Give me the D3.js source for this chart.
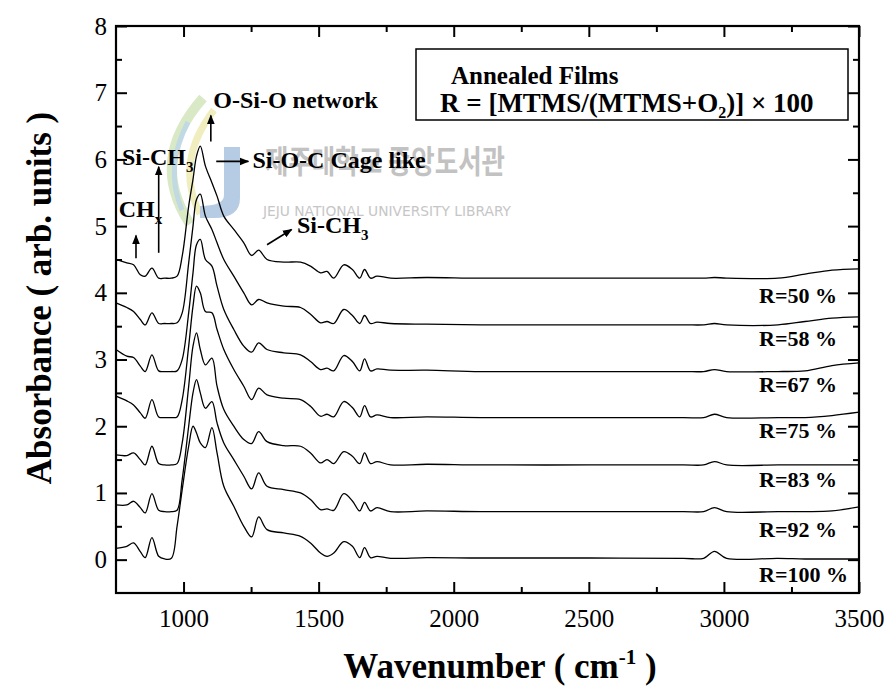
<!DOCTYPE html>
<html>
<head>
<meta charset="utf-8">
<script src="https://cdn.jsdelivr.net/npm/d3@7"></script>
</head>
<body style="margin:0; background:#fff">
<svg id="chart" width="887" height="693"></svg>
<script>
// wavenumber grid (cm-1) shared by all spectra
var wavenumber = [750, 790, 815, 840, 858, 883, 908, 930, 955, 976, 995, 1019, 1035, 1048, 1062, 1081, 1105, 1124, 1149, 1186,
  1223, 1252, 1278, 1309, 1371, 1433, 1470, 1507, 1531, 1556, 1593, 1625, 1652, 1670, 1692, 1716, 1766, 1900, 2100, 2500,
  2850, 2925, 2965, 3010, 3200, 3300, 3400, 3500];

var r50 = [4.5, 4.45, 4.42, 4.27, 4.25, 4.37, 4.22, 4.22, 4.22, 4.25, 4.55, 5.3, 5.7, 6.05, 6.2, 5.9, 5.65, 5.45, 5.15, 4.95,
  4.75, 4.56, 4.64, 4.5, 4.46, 4.46, 4.4, 4.3, 4.32, 4.22, 4.42, 4.35, 4.22, 4.35, 4.22, 4.25, 4.22, 4.23, 4.22, 4.22,
  4.22, 4.22, 4.23, 4.22, 4.22, 4.28, 4.34, 4.36];
var r58 = [3.85, 3.78, 3.72, 3.6, 3.52, 3.7, 3.54, 3.54, 3.54, 3.55, 3.7, 4.45, 5.0, 5.4, 5.48, 5.15, 4.95, 4.75, 4.5, 4.25,
  4.0, 3.82, 3.9, 3.85, 3.8, 3.78, 3.68, 3.55, 3.57, 3.54, 3.75, 3.66, 3.54, 3.66, 3.54, 3.56, 3.54, 3.53, 3.52, 3.52,
  3.52, 3.52, 3.54, 3.52, 3.52, 3.57, 3.62, 3.64];
var r67 = [3.15, 3.05, 3.03, 2.9, 2.82, 3.07, 2.83, 2.82, 2.82, 2.83, 3.0, 3.7, 4.3, 4.72, 4.8, 4.5, 4.4, 4.1, 3.75, 3.45,
  3.2, 3.11, 3.25, 3.15, 3.1, 3.07, 2.97, 2.85, 2.87, 2.83, 3.06, 2.97, 2.83, 3.01, 2.83, 2.86, 2.84, 2.84, 2.82, 2.82,
  2.82, 2.82, 2.85, 2.82, 2.82, 2.83, 2.91, 2.95];
var r75 = [2.45, 2.38, 2.32, 2.2, 2.12, 2.4, 2.14, 2.13, 2.13, 2.14, 2.4, 3.2, 3.8, 4.1, 4.0, 3.72, 3.7, 3.45, 3.15, 2.85,
  2.6, 2.4, 2.57, 2.47, 2.42, 2.4, 2.3, 2.15, 2.18, 2.14, 2.37, 2.28, 2.14, 2.31, 2.14, 2.17, 2.13, 2.14, 2.13, 2.13,
  2.13, 2.13, 2.18, 2.13, 2.13, 2.13, 2.16, 2.21];
var r83 = [1.57, 1.56, 1.6, 1.5, 1.42, 1.7, 1.44, 1.42, 1.42, 1.44, 1.75, 2.6, 3.2, 3.4, 3.15, 2.92, 3.02, 2.6, 2.25, 2.0,
  1.8, 1.74, 1.92, 1.77, 1.71, 1.7, 1.6, 1.45, 1.5, 1.44, 1.62, 1.55, 1.44, 1.6, 1.44, 1.47, 1.42, 1.43, 1.42, 1.42,
  1.42, 1.42, 1.47, 1.42, 1.42, 1.42, 1.42, 1.42];
var r92 = [0.82, 0.82, 0.875, 0.78, 0.7, 0.99, 0.74, 0.72, 0.72, 0.74, 1.2, 2.0, 2.5, 2.7, 2.5, 2.27, 2.37, 2.05, 1.75, 1.5,
  1.25, 1.06, 1.3, 1.1, 1.05, 1.0, 0.9, 0.75, 0.76, 0.74, 0.99, 0.88, 0.73, 0.86, 0.73, 0.78, 0.72, 0.73, 0.72, 0.72,
  0.72, 0.72, 0.78, 0.72, 0.72, 0.72, 0.73, 0.79];
var r100 = [0.17, 0.2, 0.25, 0.12, 0.03, 0.33, 0.05, 0.01, 0.02, 0.5, 1.05, 1.7, 2.0, 1.9, 1.75, 1.68, 1.98, 1.6, 1.1, 0.8,
  0.5, 0.34, 0.64, 0.45, 0.4, 0.35, 0.25, 0.1, 0.05, 0.1, 0.27, 0.2, 0.03, 0.18, 0.03, 0.05, 0.02, 0.03, 0.025, 0.025,
  0.02, 0.02, 0.125, 0.02, 0.02, 0.01, 0.01, 0.01];

var seriesNames = ["R=50 %", "R=58 %", "R=67 %", "R=75 %", "R=83 %", "R=92 %", "R=100 %"];
var labelY = [3.84, 3.20, 2.52, 1.83, 1.09, 0.34, -0.34];
var labelX = 3130;

var xMajor = [1000, 1500, 2000, 2500, 3000, 3500];
var xMinor = [1250, 1750, 2250, 2750, 3250];
var yMajor = [0, 1, 2, 3, 4, 5, 6, 7, 8];
var yMinor = [0.5, 1.5, 2.5, 3.5, 4.5, 5.5, 6.5, 7.5];

var allSeries = [r50, r58, r67, r75, r83, r92, r100];

var SERIF = "Liberation Serif";

var svg = d3.select("#chart").attr("font-family", SERIF);
var margin = {top: 26, right: 28, bottom: 100, left: 116};
var width = 887 - margin.left - margin.right,
    height = 693 - margin.top - margin.bottom;

// helper: text with the serif face set directly on the node
function txt(parent, size, bold) {
  return parent.append("text")
    .attr("font-family", SERIF)
    .style("font-family", SERIF)
    .attr("font-size", size)
    .attr("font-weight", bold ? "bold" : "normal")
    .attr("fill", "#000");
}

// watermark (library stamp in the scan)
var wm = svg.append("g").attr("class", "watermark");
wm.append("path").attr("d", "M203,98 Q148,160 190,224").attr("fill", "none")
  .attr("stroke", "#cfe4b8").attr("stroke-width", 10).attr("opacity", 0.8);
wm.append("path").attr("d", "M214,110 Q174,162 200,214").attr("fill", "none")
  .attr("stroke", "#ece8ae").attr("stroke-width", 7).attr("opacity", 0.8);
wm.append("path").attr("d", "M188,122 Q164,168 182,210").attr("fill", "none")
  .attr("stroke", "#b9d4ea").attr("stroke-width", 5).attr("opacity", 0.8);
wm.append("path").attr("d", "M224,147 L240,147 L240,198 Q240,218 214,218 L200,218 L200,206 Q224,206 224,195 Z")
  .attr("fill", "#a9c2df").attr("opacity", 0.85);
wm.append("text").text("제주대학교 중앙도서관")
  .attr("x", 265).attr("y", 173)
  .attr("textLength", 240).attr("lengthAdjust", "spacingAndGlyphs")
  .attr("font-family", "Noto Sans CJK KR")
  .style("font-family", "Noto Sans CJK KR")
  .attr("font-size", 32).attr("font-weight", "bold").attr("fill", "#c2c2c2");
wm.append("text").text("JEJU NATIONAL UNIVERSITY LIBRARY")
  .attr("x", 263).attr("y", 216)
  .attr("textLength", 248).attr("lengthAdjust", "spacingAndGlyphs")
  .attr("font-family", "DejaVu Sans")
  .style("font-family", "DejaVu Sans")
  .attr("font-size", 14).attr("fill", "#c6c6c6");

var g = svg.append("g").attr("transform", "translate(" + margin.left + "," + margin.top + ")");

var x = d3.scaleLinear().domain([750, 3500]).range([0, width]);
var y = d3.scaleLinear().domain([-0.5, 8]).range([height, 0]);

// axes, ticks pointing inward
function styleAxis(sel) {
  sel.attr("font-family", SERIF).attr("font-size", 25);
  sel.select(".domain").remove();
  sel.selectAll(".tick line").attr("stroke", "#000").attr("stroke-width", 2);
  sel.selectAll(".tick text")
    .attr("font-family", SERIF).style("font-family", SERIF)
    .attr("font-size", 25).attr("fill", "#000");
}

g.append("g").attr("transform", "translate(0," + height + ")")
  .call(d3.axisBottom(x).tickValues(xMajor).tickSize(-11).tickPadding(16).tickFormat(d3.format("d")))
  .call(styleAxis);
g.append("g").attr("transform", "translate(0," + height + ")")
  .call(d3.axisBottom(x).tickValues(xMinor).tickSize(-6).tickFormat(""))
  .call(styleAxis);
g.append("g")
  .call(d3.axisTop(x).tickValues(xMajor).tickSize(-11).tickFormat(""))
  .call(styleAxis);
g.append("g")
  .call(d3.axisTop(x).tickValues(xMinor).tickSize(-6).tickFormat(""))
  .call(styleAxis);

g.append("g")
  .call(d3.axisLeft(y).tickValues(yMajor).tickSize(-11).tickPadding(9).tickFormat(d3.format("d")))
  .call(styleAxis);
g.append("g")
  .call(d3.axisLeft(y).tickValues(yMinor).tickSize(-6).tickFormat(""))
  .call(styleAxis);
g.append("g").attr("transform", "translate(" + width + ",0)")
  .call(d3.axisRight(y).tickValues(yMajor).tickSize(-11).tickFormat(""))
  .call(styleAxis);
g.append("g").attr("transform", "translate(" + width + ",0)")
  .call(d3.axisRight(y).tickValues(yMinor).tickSize(-6).tickFormat(""))
  .call(styleAxis);

// spectra
var line = d3.line()
  .x(function(d){ return x(d[0]); })
  .y(function(d){ return y(d[1]); })
  .curve(d3.curveCatmullRom.alpha(0.5));

g.selectAll(".spectrum")
  .data(allSeries)
  .enter().append("path")
  .attr("class", "spectrum")
  .attr("fill", "none")
  .attr("stroke", "#000")
  .attr("stroke-width", 1.3)
  .attr("d", function(s){
    return line(wavenumber.map(function(w, i){ return [w, s[i]]; }));
  });

// frame
g.append("rect").attr("width", width).attr("height", height)
  .attr("fill", "none").attr("stroke", "#000").attr("stroke-width", 2.2);

// series labels
seriesNames.forEach(function(name, i){
  txt(g, 22, true).attr("class", "rlabel")
    .attr("x", x(labelX)).attr("y", y(labelY[i]))
    .text(name);
});

// legend box
var box = g.append("g").attr("transform", "translate(300,23)");
box.append("rect").attr("width", 432).attr("height", 71)
  .attr("fill", "none").attr("stroke", "#000").attr("stroke-width", 1.5);
txt(box, 25, true).attr("x", 35).attr("y", 35).text("Annealed Films");
var t2 = txt(box, 27, true).attr("x", 24).attr("y", 63);
t2.append("tspan").text("R = [MTMS/(MTMS+O");
t2.append("tspan").attr("dy", 6).attr("font-size", 16).text("2");
t2.append("tspan").attr("dy", -6).text(")] \u00d7  100");

// peak annotations
function subText(wx, vy, main, sub) {
  var t = txt(g, 24, true).attr("x", x(wx)).attr("y", y(vy));
  t.append("tspan").text(main);
  t.append("tspan").attr("dy", 7).attr("font-size", 15).text(sub);
}
txt(g, 24, true).attr("x", x(1110)).attr("y", y(6.77)).text("O-Si-O network");
subText(772, 5.92, "Si-CH", "3");
subText(760, 5.14, "CH", "x");
txt(g, 24, true).attr("x", x(1255)).attr("y", y(5.87)).text("Si-O-C Cage like");
subText(1420, 4.89, "Si-CH", "3");

svg.append("defs").append("marker")
  .attr("id", "head").attr("viewBox", "0 0 10 10")
  .attr("refX", 9).attr("refY", 5)
  .attr("markerWidth", 6).attr("markerHeight", 6)
  .attr("orient", "auto")
  .append("path").attr("d", "M0,1 L10,5 L0,9 Z").attr("fill", "#000");

var arrows = [
  [1101, 6.27, 1101, 6.66],
  [908, 4.6, 908, 5.89],
  [824, 4.52, 824, 4.86],
  [1121, 5.97, 1240, 5.97],
  [1309, 4.72, 1400, 4.95]
];
g.selectAll(".arrow").data(arrows).enter().append("line")
  .attr("class", "arrow")
  .attr("x1", function(d){ return x(d[0]); })
  .attr("y1", function(d){ return y(d[1]); })
  .attr("x2", function(d){ return x(d[2]); })
  .attr("y2", function(d){ return y(d[3]); })
  .attr("stroke", "#000").attr("stroke-width", 1.6)
  .attr("marker-end", "url(#head)");

// axis titles
var xt = txt(svg, 35, true).attr("x", 500).attr("y", 678).attr("text-anchor", "middle");
xt.append("tspan").text("Wavenumber ( cm");
xt.append("tspan").attr("dy", -14).attr("font-size", 21).text("-1");
xt.append("tspan").attr("dy", 14).text(" )");

txt(svg, 35, true)
  .attr("transform", "translate(51,298) rotate(-90)")
  .attr("text-anchor", "middle")
  .text("Absorbance ( arb. units )");
</script>
</body>
</html>
